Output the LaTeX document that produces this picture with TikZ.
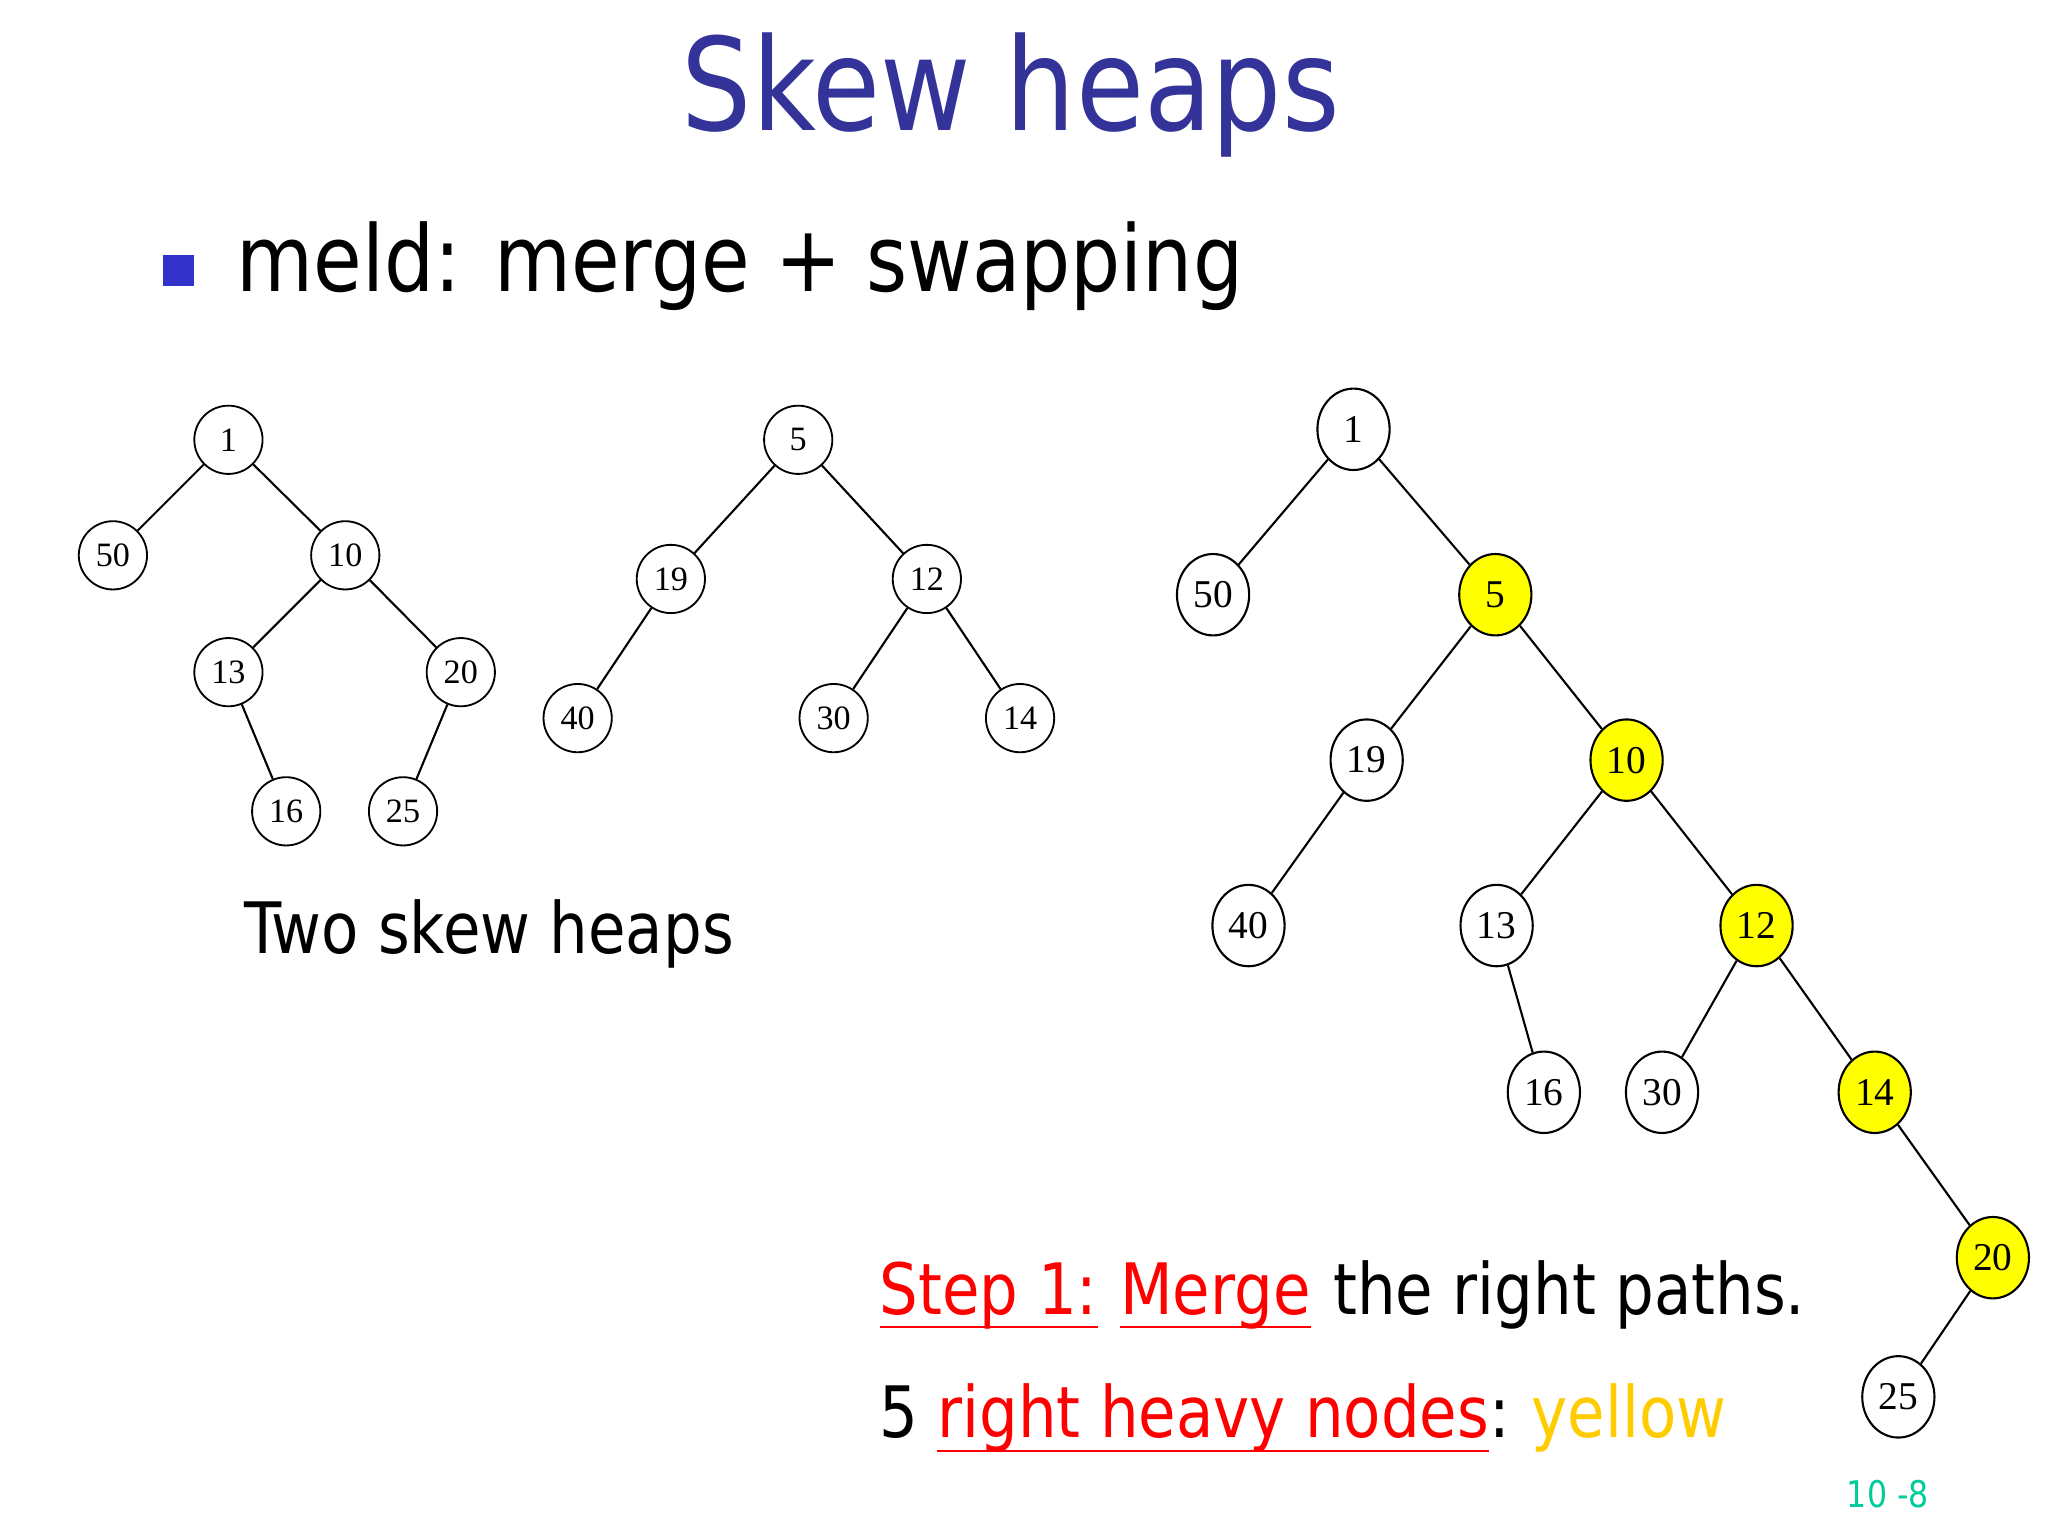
\documentclass[tikz,border=0pt]{standalone}
\usepackage{fontspec}
\setmainfont{DejaVu Sans}[FakeStretch=0.86]
\newfontfamily\nodefont{Liberation Serif}
\usetikzlibrary{shapes.geometric}
\definecolor{titleblue}{RGB}{51,51,153}
\definecolor{bulletblue}{RGB}{51,51,204}
\definecolor{hlyellow}{RGB}{255,255,0}
\definecolor{txtyellow}{RGB}{255,204,0}
\definecolor{pagegreen}{RGB}{0,204,153}
\tikzset{
 sn/.style={draw,ellipse,line width=1.4pt,minimum width=52pt,minimum height=52pt,inner sep=0pt,font=\nodefont\fontsize{26}{26}\selectfont},
 bn/.style={draw,ellipse,line width=1.6pt,minimum width=55pt,minimum height=62pt,inner sep=0pt,font=\nodefont\fontsize{30}{30}\selectfont},
 yl/.style={fill=hlyellow},
 edge/.style={line width=1.6pt},
 txt/.style={anchor=base west,inner sep=0pt,font=\fontsize{54}{54}\selectfont},
 ul/.style={red,line width=1.6pt}
}
\begin{document}
\begin{tikzpicture}[x=1pt,y=-1pt]
\useasboundingbox (0,0) rectangle (1560,1170);
\node[titleblue,font=\fontsize{98}{98}\selectfont] (title) at (770,72) {Skew heaps};
\node[fill=bulletblue,minimum size=23pt,inner sep=0pt] (bul) at (136,206) {};
\node[anchor=base west,inner sep=0pt,font=\fontsize{70}{70}\selectfont] (meld) at (180,222) {meld: merge + swapping};
% left tree
\node[sn] (a1) at (174,335) {1};
\node[sn] (a50) at (86,423) {50};
\node[sn] (a10) at (263,423) {10};
\node[sn] (a13) at (174,512) {13};
\node[sn] (a20) at (351,512) {20};
\node[sn] (a16) at (218,618) {16};
\node[sn] (a25) at (307,618) {25};
\draw[edge] (a1)--(a50) (a1)--(a10) (a10)--(a13) (a10)--(a20) (a13)--(a16) (a20)--(a25);
% middle tree
\node[sn] (b5) at (608,335) {5};
\node[sn] (b19) at (511,441) {19};
\node[sn] (b12) at (706,441) {12};
\node[sn] (b40) at (440,547) {40};
\node[sn] (b30) at (635,547) {30};
\node[sn] (b14) at (777,547) {14};
\draw[edge] (b5)--(b19) (b5)--(b12) (b19)--(b40) (b12)--(b30) (b12)--(b14);
\node[txt] (two) at (186,726) {Two skew heaps};
% right tree
\node[bn] (c1) at (1031,327) {1};
\node[bn] (c50) at (924,453) {50};
\node[bn,yl] (c5) at (1139,453) {5};
\node[bn] (c19) at (1041,579) {19};
\node[bn,yl] (c10) at (1239,579) {10};
\node[bn] (c40) at (951,705) {40};
\node[bn] (c13) at (1140,705) {13};
\node[bn,yl] (c12) at (1338,705) {12};
\node[bn] (c16) at (1176,832) {16};
\node[bn] (c30) at (1266,832) {30};
\node[bn,yl] (c14) at (1428,832) {14};
\node[bn,yl] (c20) at (1518,958) {20};
\node[bn] (c25) at (1446,1064) {25};
\draw[edge] (c1)--(c50) (c1)--(c5) (c5)--(c19) (c5)--(c10) (c19)--(c40)
 (c10)--(c13) (c10)--(c12) (c13)--(c16) (c12)--(c30) (c12)--(c14) (c14)--(c20) (c20)--(c25);
% step text
\node[txt,red] (s1) at (670,1001) {Step 1:};
\node[txt,red] (mg) at ([xshift=17pt]s1.base east) {Merge};
\node[txt] (rest) at ([xshift=17pt]mg.base east) {the right paths.};
\draw[ul] ([yshift=-10pt]s1.base west)--([yshift=-10pt]s1.base east);
\draw[ul] ([yshift=-10pt]mg.base west)--([yshift=-10pt]mg.base east);
\node[txt] (five) at (670,1095) {5};
\node[txt,red] (rh) at ([xshift=14pt]five.base east) {right heavy nodes};
\node[txt] (col) at (rh.base east) {:};
\node[txt,txtyellow] (yel) at ([xshift=16pt]col.base east) {yellow};
\draw[ul] ([yshift=-10pt]rh.base west)--([yshift=-10pt]rh.base east);
\node[pagegreen,font=\fontsize{28}{28}\selectfont] (pg) at (1438,1138) {10 -8};
\end{tikzpicture}
\end{document}
